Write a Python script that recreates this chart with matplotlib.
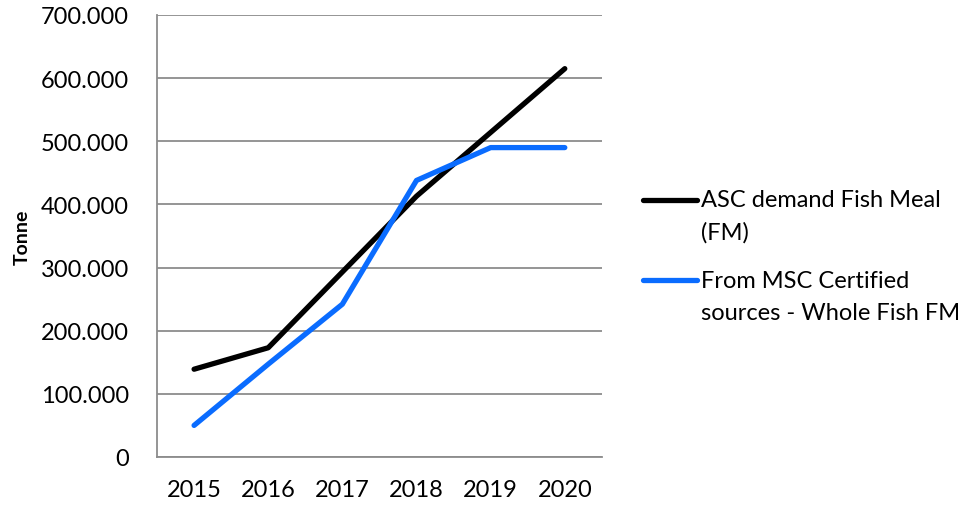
import matplotlib
matplotlib.use("Agg")
import matplotlib.pyplot as plt
from matplotlib.ticker import FuncFormatter
from matplotlib.legend_handler import HandlerLine2D

# data
years = ["2015", "2016", "2017", "2018", "2019", "2020"]
asc_demand = [139000, 173000, 293000, 413000, 514000, 615000]
msc_certified = [50000, 147000, 242000, 438000, 490000, 490000]

plt.rcParams['font.family'] = ['Lato', 'DejaVu Sans']


# legend handle level with the first line of a two-line label
class FirstLineHandler(HandlerLine2D):
    def create_artists(self, legend, orig_handle, xdescent, ydescent,
                       width, height, fontsize, trans):
        artists = super().create_artists(legend, orig_handle, xdescent, ydescent,
                                         width, height, fontsize, trans)
        for a in artists:
            a.set_ydata([y + 11.5 for y in a.get_ydata()])
        return artists


fig = plt.figure(figsize=(9.65, 5.06), dpi=100)
ax = fig.add_axes([0.1627, 0.0949, 0.461, 0.8735])

x = range(len(years))
ax.plot(x, asc_demand, color="black", lw=3.8, solid_capstyle="round",
        solid_joinstyle="round", label="ASC demand Fish Meal\n(FM)")
ax.plot(x, msc_certified, color="#0A6CFF", lw=3.8, solid_capstyle="round",
        solid_joinstyle="round", label="From MSC Certified\nsources - Whole Fish FM")

ax.set_xlim(-0.5, 5.5)
ax.set_ylim(0, 700000)
ax.set_xticks(list(x))
ax.set_xticklabels(years)
ax.set_yticks(range(0, 700001, 100000))
ax.yaxis.set_major_formatter(FuncFormatter(lambda v, p: "0" if v == 0 else f"{int(v):,}".replace(",", ".")))

ax.grid(axis="y", color="#8c8c8c", lw=1.3)
ax.set_axisbelow(True)
for s in ["top", "right"]:
    ax.spines[s].set_visible(False)
for s in ["left", "bottom"]:
    ax.spines[s].set_color("#8c8c8c")
    ax.spines[s].set_linewidth(1.3)

ax.tick_params(axis="both", length=0, labelsize=17)
ax.tick_params(axis="y", pad=20)
ax.tick_params(axis="x", pad=16)

ax.set_ylabel("Tonne", fontsize=14, fontweight="bold")
ax.yaxis.set_label_coords(-0.284, 0.5)

leg = ax.legend(loc="center left", bbox_to_anchor=(1.092, 0.455), frameon=False,
                fontsize=17, handlelength=2.3, handletextpad=0.15,
                labelspacing=1.12, borderpad=0, borderaxespad=0,
                handler_map={plt.Line2D: FirstLineHandler()})
for t in leg.get_texts():
    t.set_linespacing(1.65)

fig.savefig("out.png", dpi=100)
